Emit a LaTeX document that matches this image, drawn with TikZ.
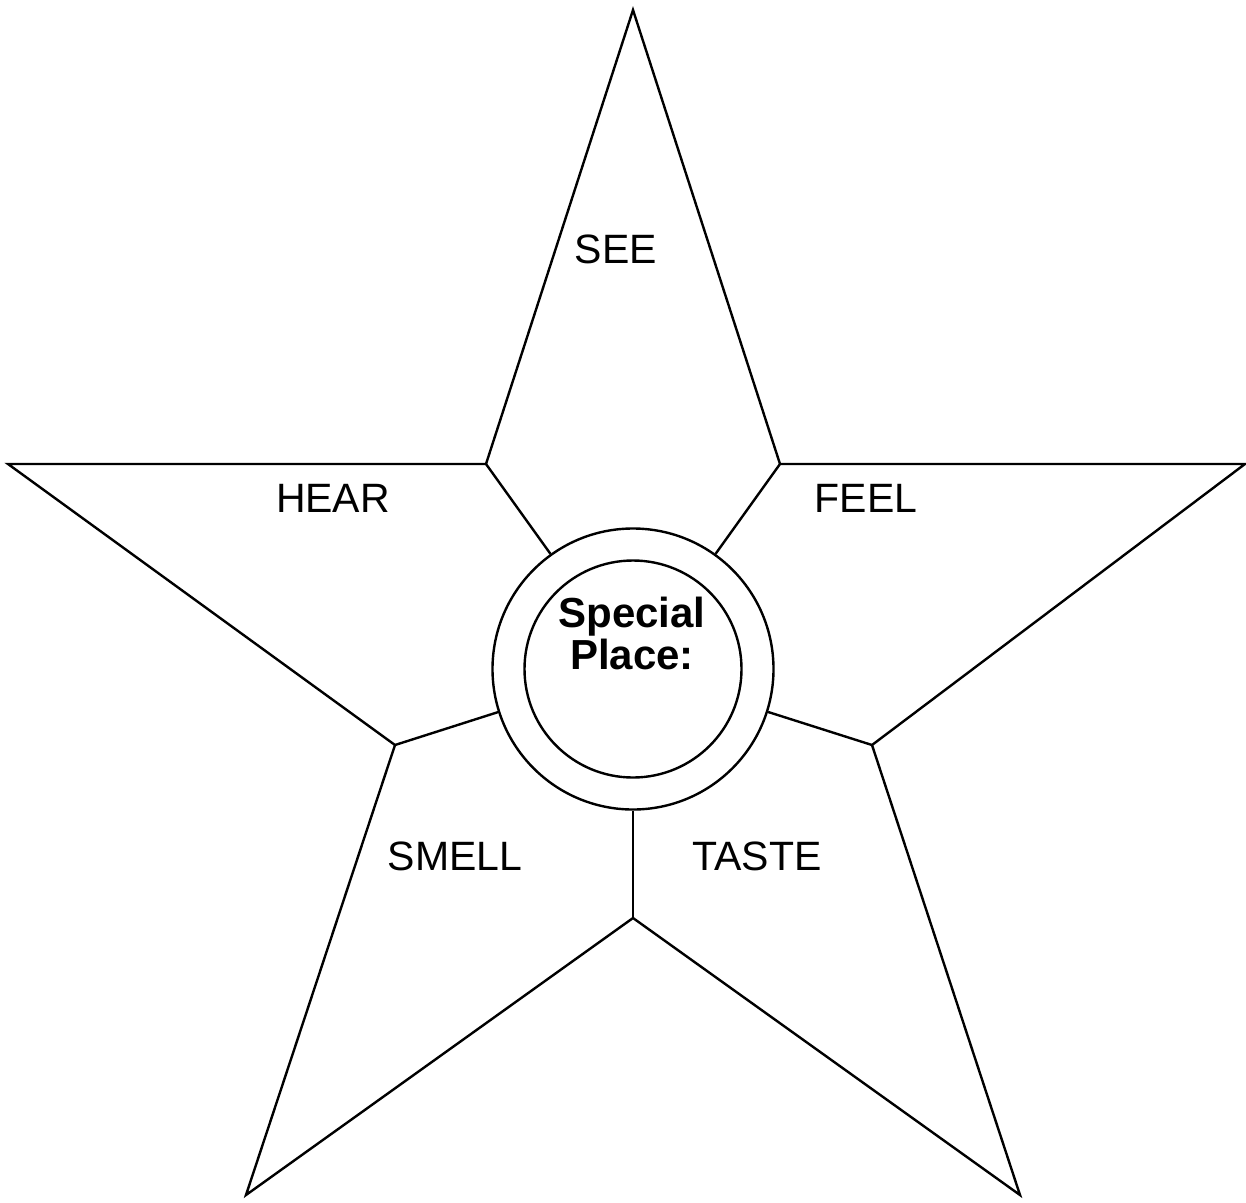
\documentclass[tikz,border=0pt]{standalone}
\usepackage{fontspec}
\setmainfont{Liberation Sans}
\begin{document}
\begin{tikzpicture}[x=1pt,y=-1pt,
  line/.style={draw=black,line width=2.4pt,line join=miter},
  lbl/.style={anchor=base,font=\fontsize{41}{48}\selectfont,inner sep=0pt},
  ctr/.style={align=center,font=\bfseries\fontsize{42}{42}\selectfont,inner sep=0pt}]
\useasboundingbox (0,0) rectangle (1246,1202);
\coordinate (T) at (633,10);
\coordinate (IUL) at (486,464);
\coordinate (L) at (8,464);
\coordinate (IL) at (395,745);
\coordinate (BL) at (246,1195);
\coordinate (IB) at (633,918);
\coordinate (BR) at (1020,1195);
\coordinate (IR) at (872,745);
\coordinate (R) at (1245,464);
\coordinate (IUR) at (780,464);
\draw[line] (T) -- (IUR) -- (R) -- (IR) -- (BR) -- (IB) -- (BL) -- (IL) -- (L) -- (IUL) -- cycle;
\node[circle,line,minimum size=281pt,inner sep=0pt] (outer) at (633,669) {};
\node[circle,line,minimum size=217pt,inner sep=0pt] (inner) at (633,669) {};
\foreach \p in {IUL,IUR,IL,IR,IB} \draw[line] (\p) -- (outer);
\node[lbl] (see) at (616,263) {SEE};
\node[lbl] (hear) at (333,512) {HEAR};
\node[lbl] (feel) at (866,512) {FEEL};
\node[lbl] (smell) at (455,870) {SMELL};
\node[lbl] (taste) at (757,870) {TASTE};
\node[ctr,anchor=base] (sp) at (632,627) {Special};
\node[ctr,anchor=base] (pl) at (632,669) {Place:};
\end{tikzpicture}
\end{document}
